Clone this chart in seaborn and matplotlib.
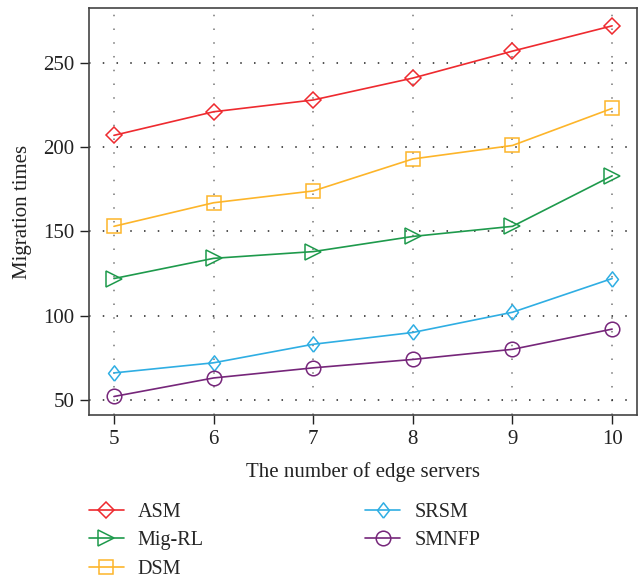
import matplotlib
matplotlib.use("Agg")
import matplotlib.pyplot as plt
import seaborn as sns
import pandas as pd

servers = [5, 6, 7, 8, 9, 10]
asm = [207, 221, 228, 241, 257, 272]
mig_rl = [122, 134, 138, 147, 153, 183]
dsm = [153, 167, 174, 193, 201, 223]
srsm = [66, 72, 83, 90, 102, 122]
smnfp = [52, 63, 69, 74, 80, 92]

methods = ["ASM", "Mig-RL", "DSM", "SRSM", "SMNFP"]
series = [asm, mig_rl, dsm, srsm, smnfp]
colors = ["#EE2A2F", "#1E9A4C", "#FDB52A", "#2FAEE3", "#76267A"]
narrow_diamond = [(0, -1), (0.78, 0), (0, 1), (-0.78, 0), (0, -1)]
markers = ["D", ">", "s", narrow_diamond, "o"]
msizes = [8.3, 11.5, 9.5, 11, 10.5]

sns.set_theme(style="white")
plt.rcParams["font.family"] = ["Liberation Serif", "DejaVu Serif"]

df = pd.DataFrame({
    "servers": servers * len(methods),
    "times": [v for s in series for v in s],
    "method": [m for m in methods for _ in servers],
})

fig = plt.figure(figsize=(6.41, 5.79), dpi=100)
ax = fig.add_axes([0.1389, 0.2832, 0.8549, 0.7030])

for m, c, mk, ms in zip(methods, colors, markers, msizes):
    sub = df[df["method"] == m]
    sns.lineplot(data=sub, x="servers", y="times", ax=ax, color=c, lw=1.2,
                 marker=mk, markersize=ms, markerfacecolor="none",
                 markeredgecolor=c, markeredgewidth=1.1, label=m)

ax.set_xlim(4.75, 10.25)
ax.set_ylim(41, 282.6)
ax.set_xticks(servers)
ax.set_yticks([50, 100, 150, 200, 250])
ax.xaxis.grid(True, color="#777777", linestyle=(0, (1, 8)), linewidth=1.1)
ax.yaxis.grid(True, color="#222222", linestyle=(0, (1, 8)), linewidth=1.1)
ax.tick_params(axis="both", labelsize=15, direction="out", length=6.5,
               width=1.0, colors="#222222", bottom=True, left=True, pad=4)
for sp in ax.spines.values():
    sp.set_color("#444444")
    sp.set_linewidth(1.2)
ax.set_xlabel("The number of edge servers", fontsize=15, color="#222222", labelpad=10)
ax.set_ylabel("Migration times", fontsize=15, color="#222222", labelpad=8)

ax.legend(loc="upper left", bbox_to_anchor=(-0.034, -0.172), ncol=2, frameon=False,
          fontsize=14.5, handlelength=1.75, columnspacing=8.0, labelspacing=0.45,
          handletextpad=0.7)

fig.savefig("out.png", dpi=100)
